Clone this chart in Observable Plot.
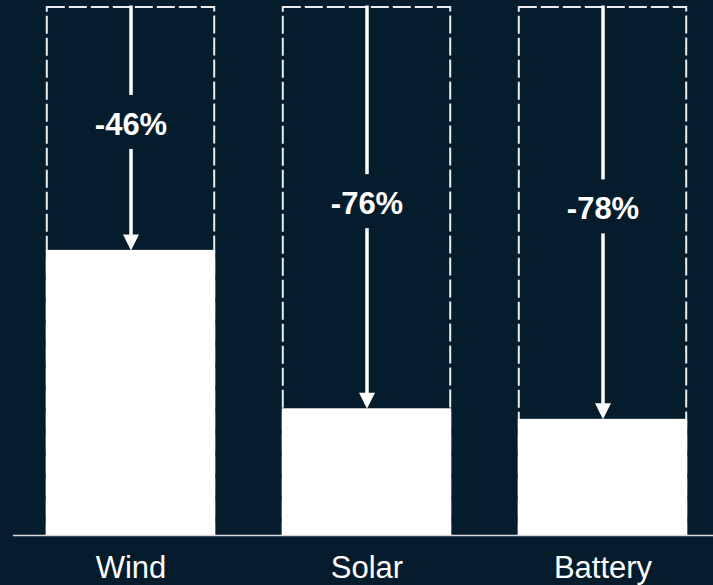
<!DOCTYPE html>
<html>
<head>
<meta charset="utf-8">
<script src="https://cdn.jsdelivr.net/npm/d3@7"></script>
<script src="https://cdn.jsdelivr.net/npm/@observablehq/plot@0.6"></script>
<style>
  html, body { margin: 0; padding: 0; background: #051c2c; }
  #chart svg { display: block; }
</style>
</head>
<body>
<div id="chart"></div>
<script>
// Cost index per technology: starting level and the change since then (%)
const categories = ["Wind", "Solar", "Battery"];
const startLevel = [100, 100, 100];
const changePct = [-46, -76, -78];

const rows = categories.map((category, i) => ({
  category,
  before: startLevel[i],
  after: startLevel[i] + changePct[i],
  change: changePct[i]
}));

const bg = "#051c2c";

// Filled arrowhead with its tip at the anchor point, pointing down
const headDown = {
  draw(ctx) {
    ctx.moveTo(0, 0);
    ctx.lineTo(-8, -16);
    ctx.lineTo(8, -16);
    ctx.closePath();
  }
};

// Background-coloured knockout that breaks the arrow shaft behind the label
const labelGap = {
  draw(ctx) {
    ctx.rect(-6, -27, 12, 54);
  }
};

const mid = d => (d.before + d.after) / 2;

const chart = Plot.plot({
  width: 713,
  height: 585,
  marginTop: 7,
  marginBottom: 50,
  marginLeft: 13,
  marginRight: 0,
  style: {
    background: bg,
    color: "white",
    fontFamily: "'Liberation Sans', Arial, sans-serif",
    fontSize: "31px"
  },
  x: { domain: categories, range: [13, 721], paddingInner: 0.3, paddingOuter: 0.15, label: null },
  y: { domain: [0, 100], axis: null },
  marks: [
    Plot.barY(rows, {
      x: "category", y: "before",
      fill: "none", stroke: "#ececec", strokeWidth: 2, strokeDasharray: "18,4",
      insetLeft: -1.2, insetRight: -1.2
    }),
    Plot.barY(rows, { x: "category", y: "after", fill: "white", insetLeft: -2.2, insetRight: -2.2 }),
    Plot.ruleY([0], { stroke: "#d9d9d9", strokeWidth: 1.5 }),
    Plot.ruleX(rows, {
      x: "category", y1: "before", y2: "after",
      stroke: "white", strokeWidth: 3.5, insetTop: -1.5, insetBottom: 15
    }),
    Plot.dot(rows, { x: "category", y: "after", symbol: headDown, fill: "white" }),
    Plot.dot(rows, { x: "category", y: mid, symbol: labelGap, fill: bg, dy: -7 }),
    Plot.text(rows, {
      x: "category", y: mid, text: d => `${d.change}%`,
      fill: "white", fontWeight: "bold", fontSize: 31, dy: -4
    }),
    Plot.axisX({ tickSize: 0, tickPadding: 20, fontSize: 31, label: null })
  ]
});

document.getElementById("chart").append(chart);
</script>
</body>
</html>
